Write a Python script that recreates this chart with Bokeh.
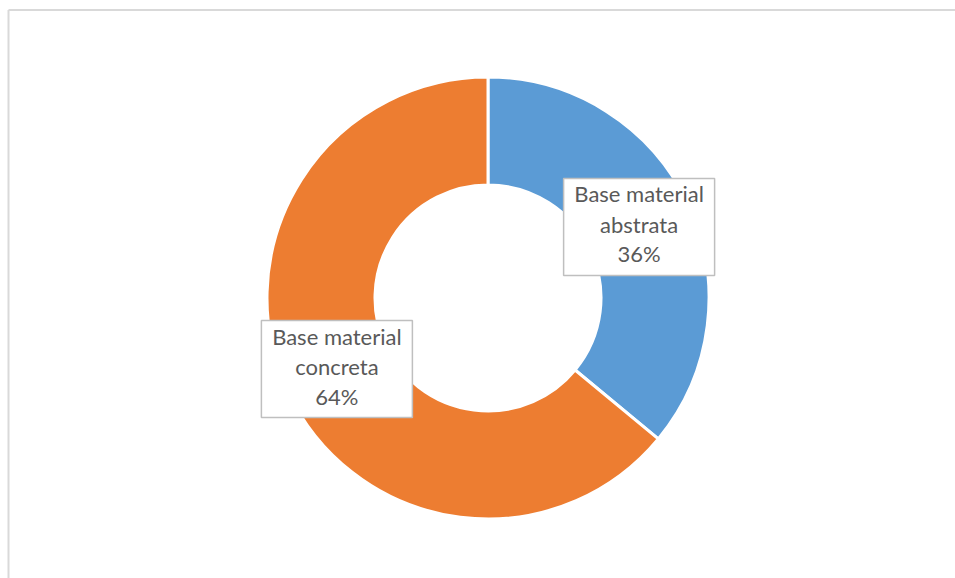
import math
from bokeh.plotting import figure
from bokeh.models import Range1d, ColumnDataSource
from bokeh.core.properties import value
from bokeh.embed import file_html
from bokeh.resources import INLINE

categories = ["Base material abstrata", "Base material concreta"]
label_line1 = ["Base material", "Base material"]
label_line2 = ["abstrata", "concreta"]
shares = [36, 64]
colors = ["#5B9BD5", "#ED7D31"]

W, H = 955, 578
cx, cy = 487.5, 578 - 297.5
r_in, r_out = 113, 221

total = sum(shares)
starts, ends, mids = [], [], []
cum = 0.0
for s in shares:
    a0 = math.pi / 2 - 2 * math.pi * cum / total
    a1 = math.pi / 2 - 2 * math.pi * (cum + s) / total
    starts.append(a1)
    ends.append(a0)
    mids.append((a0 + a1) / 2)
    cum += s

src = ColumnDataSource(dict(
    start=starts, end=ends, color=colors,
    x=[cx] * len(shares), y=[cy] * len(shares),
))

p = figure(width=W, height=H, x_range=Range1d(0, W), y_range=Range1d(0, H),
           x_axis_type=None, y_axis_type=None, toolbar_location=None,
           output_backend="svg", min_border=0)
p.outline_line_color = None
p.grid.visible = False
p.background_fill_color = "white"
p.border_fill_color = "white"

# chart area frame (top and left edges visible)
p.line(x=[8, W], y=[H - 9.5, H - 9.5], line_color="#d9d9d9", line_width=2)
p.line(x=[8, 8], y=[H - 9.5, 0], line_color="#d9d9d9", line_width=2)

p.annular_wedge(x="x", y="y", inner_radius=r_in, outer_radius=r_out,
                start_angle="start", end_angle="end", fill_color="color",
                line_color="white", line_width=3, source=src)

r_lab = (r_in + r_out) / 2
lx = [cx + r_lab * math.cos(a) for a in mids]
ly = [cy + r_lab * math.sin(a) for a in mids]
pct = [f"{round(100 * s / total)}%" for s in shares]

lab = ColumnDataSource(dict(x=lx, y=ly, l1=label_line1, l2=label_line2, l3=pct))
p.rect(x="x", y="y", width=151, height=97, width_units="screen", height_units="screen",
       fill_color="white", line_color="#bfbfbf", line_width=1.5, source=lab)
for col, off in (("l1", -33), ("l2", -2.5), ("l3", 27)):
    p.text(x="x", y="y", text=col, y_offset=off, text_align="center",
           text_baseline="alphabetic", text_font=value("Lato"),
           text_font_size="22px", text_color="#595959", source=lab)

open("out.html", "w").write(file_html(p, INLINE))
